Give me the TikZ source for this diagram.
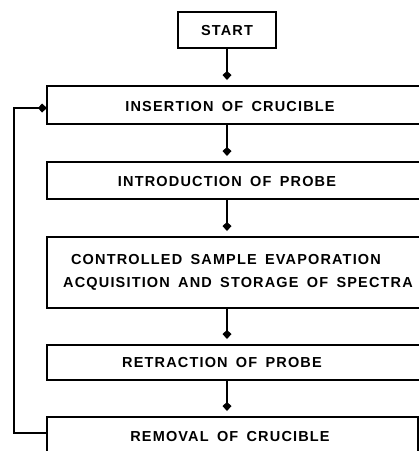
\documentclass[tikz,border=0pt]{standalone}
\usepackage{fontspec}
\newfontfamily\labfont[LetterSpace=8,WordSpace=1.6]{Liberation Sans}
\usetikzlibrary{arrows.meta}
\begin{document}
\begin{tikzpicture}[x=1pt,y=-1pt,
  box/.style={draw, line width=2pt, rectangle, inner sep=0pt, outer sep=0pt, anchor=north west},
  lab/.style={font=\labfont\bfseries\fontsize{14.5}{16}\selectfont, inner sep=0pt},
  arr/.style={line width=2.6pt, -{Kite[length=9pt,width=9pt,inset=4pt]}},
  flow/.style={arr, shorten >=6pt}]
\path[use as bounding box, clip] (0,0) rectangle (419,451);
% boxes
\node[box, minimum width=98pt, minimum height=36pt] (start) at (178,12) {};
\node[box, minimum width=380pt, minimum height=38pt] (b1) at (47,86) {};
\node[box, minimum width=380pt, minimum height=37pt] (b2) at (47,162) {};
\node[box, minimum width=380pt, minimum height=71pt] (b3) at (47,237) {};
\node[box, minimum width=380pt, minimum height=35pt] (b4) at (47,345) {};
\node[box, minimum width=371pt, minimum height=60pt] (b5) at (47,417) {};
% texts
\node[lab] (t0) at (227,31) {START};
\node[lab] (t1) at (230,107) {INSERTION OF CRUCIBLE};
\node[lab] (t2) at (227,182) {INTRODUCTION OF PROBE};
\node[lab] (t3a) at (226,260) {CONTROLLED SAMPLE EVAPORATION};
\node[lab] (t3b) at (238,284) {ACQUISITION AND STORAGE OF SPECTRA};
\node[lab] (t4) at (222,363) {RETRACTION OF PROBE};
\node[lab] (t5) at (230,437) {REMOVAL OF CRUCIBLE};
% connectors
\draw[flow] (start.south) -- (b1.north -| start.south);
\draw[flow] (b1.south -| start.south) -- (b2.north -| start.south);
\draw[flow] (b2.south -| start.south) -- (b3.north -| start.south);
\draw[flow] (b3.south -| start.south) -- (b4.north -| start.south);
\draw[flow] (b4.south -| start.south) -- (b5.north -| start.south);
\coordinate (lb) at (14,433);
\coordinate (lt) at (14,108);
\draw[arr] (b5.west |- lb) -- (lb) -- (lt) -- (b1.west |- lt);
\end{tikzpicture}
\end{document}
